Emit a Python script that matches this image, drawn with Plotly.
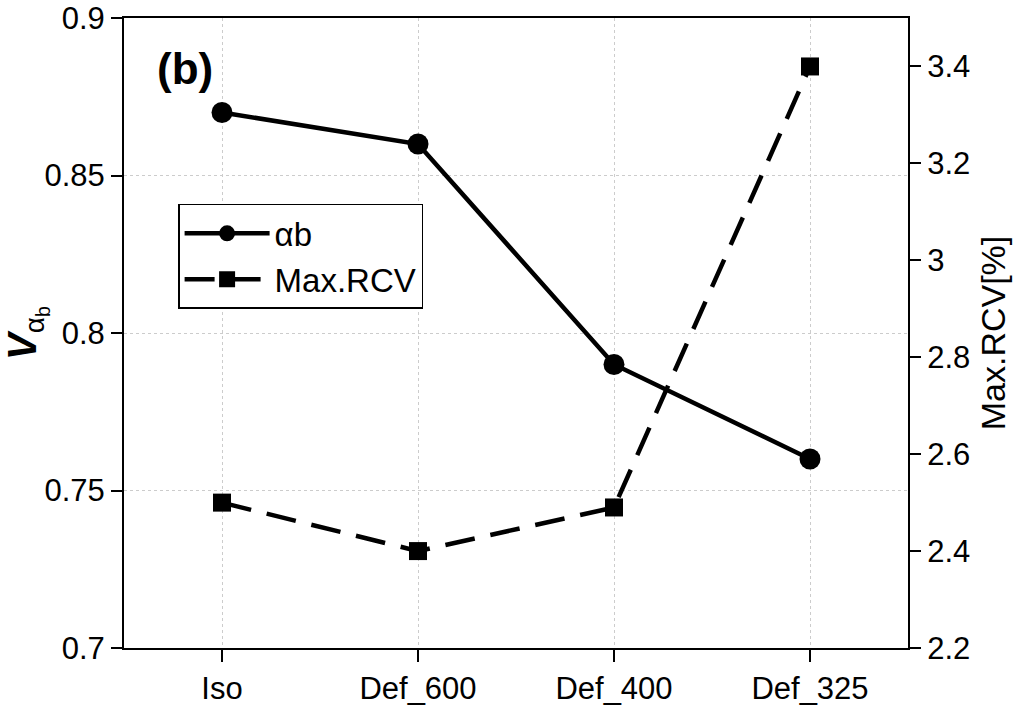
import plotly.graph_objects as go

categories = ["Iso", "Def_600", "Def_400", "Def_325"]
alpha_b = [0.87, 0.86, 0.79, 0.76]
max_rcv = [2.50, 2.40, 2.49, 3.40]

fig = go.Figure()
fig.add_trace(go.Scatter(
    x=categories, y=alpha_b, name="αb", mode="lines+markers",
    line=dict(color="black", width=4.5),
    marker=dict(symbol="circle", size=21, color="black"),
))
fig.add_trace(go.Scatter(
    x=categories, y=max_rcv, name="Max.RCV", mode="lines+markers",
    line=dict(color="black", width=4.5, dash="30px,16px"),
    marker=dict(symbol="square", size=18, color="black"),
    yaxis="y2",
))

font = "Liberation Sans, Arial, sans-serif"
fig.update_layout(
    width=1021, height=706,
    margin=dict(l=124, r=113, t=18, b=58),
    paper_bgcolor="white", plot_bgcolor="white",
    font=dict(family=font, size=31, color="black"),
    showlegend=True,
    legend=dict(x=0.069, y=0.705, xanchor="left", yanchor="top",
                bordercolor="black", borderwidth=1.5, bgcolor="white",
                font=dict(size=33), itemwidth=85, tracegroupgap=0),
    xaxis=dict(
        range=[-0.5, 3.5], showline=True, linecolor="black", linewidth=2,
        mirror=True, ticks="outside", ticklen=12, tickwidth=2, tickcolor="black",
        showgrid=True, gridcolor="#cccccc", griddash="dot", gridwidth=1,
        tickfont=dict(size=31), zeroline=False, automargin=False,
    ),
    yaxis=dict(
        range=[0.7, 0.9], dtick=0.05, showline=True, linecolor="black", linewidth=2,
        ticks="outside", ticklen=11, tickwidth=2, tickcolor="black",
        showgrid=True, gridcolor="#cccccc", griddash="dot", gridwidth=1,
        tickfont=dict(size=31), zeroline=False, automargin=False,
        title=dict(text="<b><i>V</i></b><sub>α<sub>b</sub></sub>", font=dict(size=40), standoff=2),
    ),
    yaxis2=dict(
        range=[2.2, 3.5], tickvals=[2.2, 2.4, 2.6, 2.8, 3.0, 3.2, 3.4],
        ticktext=["2.2", "2.4", "2.6", "2.8", "3", "3.2", "3.4"],
        overlaying="y", side="right", showline=True, linecolor="black", linewidth=2,
        ticks="outside", ticklen=11, tickwidth=2, tickcolor="black",
        showgrid=False, zeroline=False, tickfont=dict(size=31), automargin=False,
        title=dict(text="Max.RCV[%]", font=dict(size=34), standoff=12),
    ),
    annotations=[dict(
        text="<b>(b)</b>", xref="paper", yref="paper", x=0.04, y=0.92,
        xanchor="left", yanchor="middle", showarrow=False,
        font=dict(size=44, family=font),
    )],
)

fig.write_html("out.html")
